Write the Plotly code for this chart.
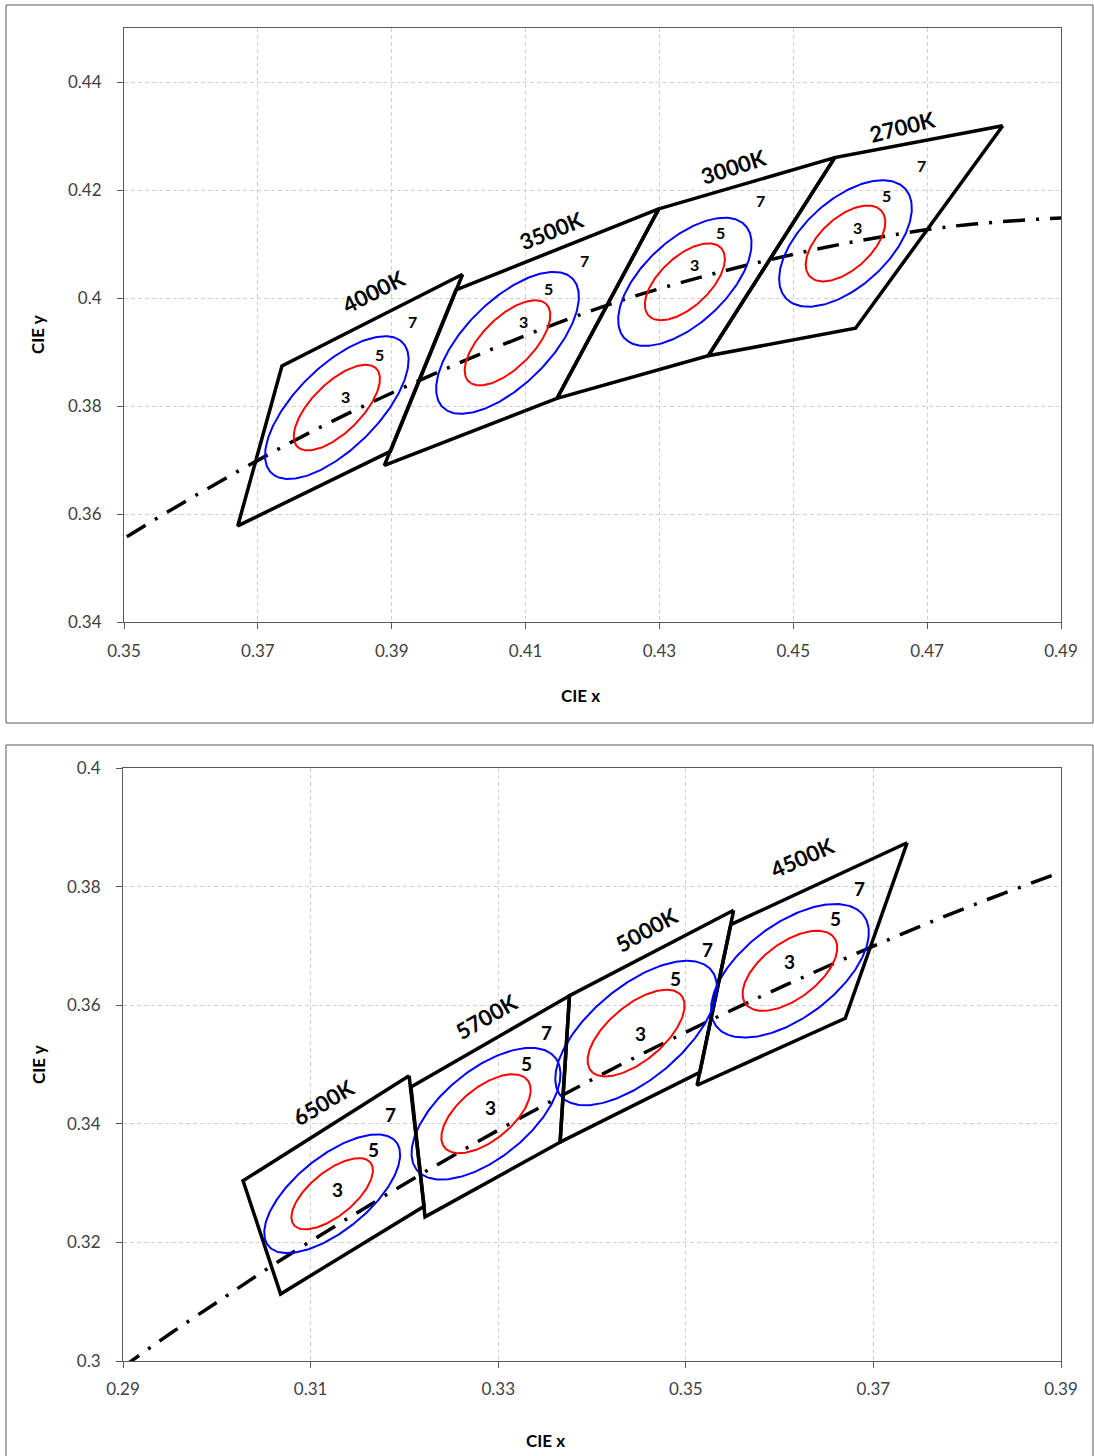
import numpy as np
import plotly.graph_objects as go

W, H = 1094, 1456

# Planckian locus, CIE 1931 (x, y) at selected colour temperatures (K)
locus_cct = [2000, 2200, 2500, 2700, 2856, 3000, 3200, 3500, 4000, 4500,
             5000, 5500, 6000, 6500, 7000, 7500, 8000, 8500, 9000]
locus_x = [0.5267, 0.5054, 0.4770, 0.4599, 0.4476, 0.4369, 0.4232, 0.4053, 0.3805, 0.3608,
           0.3451, 0.3325, 0.3221, 0.3135, 0.3064, 0.3004, 0.2952, 0.2908, 0.2869]
locus_y = [0.4133, 0.4152, 0.4137, 0.4106, 0.4074, 0.4041, 0.3991, 0.3907, 0.3768, 0.3635,
           0.3516, 0.3411, 0.3318, 0.3236, 0.3166, 0.3103, 0.3048, 0.2999, 0.2956]

# Nominal CCT quadrangles (corners: top-right, top-left, bottom-left, bottom-right)
top_ccts = ["2700K", "3000K", "3500K", "4000K"]
bottom_ccts = ["4500K", "5000K", "5700K", "6500K"]

quad_x = {
    "2700K": [0.4813, 0.4562, 0.4373, 0.4593],
    "3000K": [0.4562, 0.4299, 0.4147, 0.4373],
    "3500K": [0.4299, 0.3996, 0.3889, 0.4147],
    "4000K": [0.4006, 0.3736, 0.3670, 0.3898],
    "4500K": [0.3736, 0.3548, 0.3512, 0.3670],
    "5000K": [0.3551, 0.3376, 0.3366, 0.3515],
    "5700K": [0.3376, 0.3207, 0.3222, 0.3366],
    "6500K": [0.3205, 0.3028, 0.3068, 0.3221],
}
quad_y = {
    "2700K": [0.4319, 0.4260, 0.3893, 0.3944],
    "3000K": [0.4260, 0.4165, 0.3814, 0.3893],
    "3500K": [0.4165, 0.4015, 0.3690, 0.3814],
    "4000K": [0.4044, 0.3874, 0.3578, 0.3716],
    "4500K": [0.3874, 0.3736, 0.3465, 0.3578],
    "5000K": [0.3760, 0.3616, 0.3369, 0.3487],
    "5700K": [0.3616, 0.3462, 0.3243, 0.3369],
    "6500K": [0.3481, 0.3304, 0.3113, 0.3261],
}

# Ellipse centres and MacAdam metric coefficients (g11, g12, g22 in units of 1e4)
center_x = {"2700K": 0.4578, "3000K": 0.4338, "3500K": 0.4073, "4000K": 0.3818,
            "4500K": 0.3611, "5000K": 0.3447, "5700K": 0.3287, "6500K": 0.3123}
center_y = {"2700K": 0.4101, "3000K": 0.4030, "3500K": 0.3917, "4000K": 0.3797,
            "4500K": 0.3658, "5000K": 0.3553, "5700K": 0.3417, "6500K": 0.3282}
g11 = {"2700K": 37.0, "3000K": 39.0, "3500K": 38.0, "4000K": 39.5,
       "4500K": 52.7, "5000K": 56.0, "5700K": 61.9, "6500K": 84.0}
g12 = {"2700K": -17.5, "3000K": -19.5, "3500K": -20.0, "4000K": -21.5,
       "4500K": -22.6, "5000K": -25.0, "5700K": -26.5, "6500K": -40.0}
g22 = {"2700K": 26.5, "3000K": 27.5, "3500K": 25.0, "4000K": 26.0,
       "4500K": 29.4, "5000K": 28.0, "5700K": 31.6, "6500K": 44.0}

drawn_steps = [3, 5]
step_labels = ["3", "5", "7"]
step_colors = {3: "#ff0000", 5: "#0000ff"}

# screen offsets (px) of the step numbers from each ellipse centre
step_label_shift = {
    "2700K": [(12, -16), (41, -48), (76, -78)],
    "3000K": [(10, -17), (36, -49), (76, -81)],
    "3500K": [(16, -21), (41, -54), (77, -82)],
    "4000K": [(9, -11), (43, -53), (76, -86)],
    "4500K": [(0, -9), (46, -52), (70, -82)],
    "5000K": [(4, 0), (39, -55), (71, -84)],
    "5700K": [(4, -6), (40, -50), (60, -81)],
    "6500K": [(5, -4), (41, -44), (58, -79)],
}
# CCT caption offset (px) from the middle of the top edge, and text angle
cct_label_shift = {
    "2700K": (-16, -15, -14), "3000K": (-13, -17, -18), "3500K": (-6, -19, -22),
    "4000K": (1, -29, -27), "4500K": (-17, -26, -24), "5000K": (-5, -24, -29),
    "5700K": (-4, -25, -30), "6500K": (-3, -26, -31),
}

FONT = "Lato, 'Open Sans', sans-serif"


def ellipse(name, n):
    m = np.array([[g11[name], g12[name]], [g12[name], g22[name]]]) * 1e4
    w, v = np.linalg.eigh(m)
    t = np.linspace(0, 2 * np.pi, 241)
    circ = np.vstack([np.cos(t), np.sin(t)]) * (n / np.sqrt(w))[:, None]
    pts = v @ circ
    return center_x[name] + pts[0], center_y[name] + pts[1]


fig = go.Figure()
annotations = []

panels = [("x", "y", top_ccts, 16), ("x2", "y2", bottom_ccts, 19)]
for xa, ya, names, num_size in panels:
    fig.add_trace(go.Scatter(
        x=locus_x, y=locus_y, mode="lines", xaxis=xa, yaxis=ya,
        line=dict(color="black", width=3.5, dash="22px,11px,3px,11px", shape="spline"),
        hoverinfo="skip", showlegend=False))
    for name in names:
        qx = quad_x[name] + quad_x[name][:1]
        qy = quad_y[name] + quad_y[name][:1]
        fig.add_trace(go.Scatter(
            x=qx, y=qy, mode="lines", xaxis=xa, yaxis=ya,
            line=dict(color="black", width=3.5), hoverinfo="skip", showlegend=False))
        for n in drawn_steps:
            ex, ey = ellipse(name, n)
            fig.add_trace(go.Scatter(
                x=ex, y=ey, mode="lines", xaxis=xa, yaxis=ya,
                line=dict(color=step_colors[n], width=2), hoverinfo="skip",
                showlegend=False))
        for lbl, (dx, dy) in zip(step_labels, step_label_shift[name]):
            annotations.append(dict(
                x=center_x[name], y=center_y[name], xref=xa, yref=ya, text=f"<b>{lbl}</b>",
                showarrow=False, xshift=dx, yshift=-dy, xanchor="center", yanchor="middle",
                font=dict(family=FONT, size=num_size, color="black")))
        mx = (quad_x[name][0] + quad_x[name][1]) / 2
        my = (quad_y[name][0] + quad_y[name][1]) / 2
        sx, sy, ang = cct_label_shift[name]
        annotations.append(dict(
            x=mx, y=my, xref=xa, yref=ya, text=f"<b>{name}</b>", showarrow=False,
            xshift=sx, yshift=-sy, textangle=ang, xanchor="center", yanchor="middle",
            font=dict(family=FONT, size=22, color="black")))

# axis titles
for cx, cy in [(580, 695), (545, 1440)]:
    annotations.append(dict(x=cx / W, y=1 - cy / H, xref="paper", yref="paper",
                            xanchor="center", yanchor="middle",
                            text="<b>CIE x</b>", showarrow=False,
                            font=dict(family=FONT, size=17, color="black")))
for cx, cy in [(38, 335), (38, 1065)]:
    annotations.append(dict(x=cx / W, y=1 - cy / H, xref="paper", yref="paper",
                            xanchor="center", yanchor="middle",
                            text="<b>CIE y</b>", showarrow=False, textangle=-90,
                            font=dict(family=FONT, size=17, color="black")))

axis_common = dict(
    showline=True, mirror=True, linecolor="#595959", linewidth=1,
    ticks="outside", ticklen=6, tickcolor="#595959",
    showgrid=True, gridcolor="#d0d0d0", griddash="4px,3px", gridwidth=1,
    zeroline=False, tickformat=".2~f", automargin=False,
    tickfont=dict(family=FONT, size=17, color="#404040"),
)

fig.update_layout(
    width=W, height=H, autosize=False,
    margin=dict(l=0, r=0, t=0, b=0, pad=0, autoexpand=False),
    paper_bgcolor="white", plot_bgcolor="white", showlegend=False,
    xaxis=dict(domain=[124 / W, 1061 / W], range=[0.35, 0.49], tick0=0.35, dtick=0.02,
               anchor="y", ticklabelstandoff=8, **axis_common),
    yaxis=dict(domain=[1 - 622 / H, 1 - 28 / H], range=[0.34, 0.45], tick0=0.34, dtick=0.02,
               anchor="x", ticklabelstandoff=12, **axis_common),
    xaxis2=dict(domain=[123 / W, 1061 / W], range=[0.29, 0.39], tick0=0.29, dtick=0.02,
                anchor="y2", ticklabelstandoff=7, **axis_common),
    yaxis2=dict(domain=[1 - 1361 / H, 1 - 768 / H], range=[0.30, 0.40], tick0=0.30, dtick=0.02,
                anchor="x2", ticklabelstandoff=12, **axis_common),
    annotations=annotations,
    shapes=[
        dict(type="rect", xref="paper", yref="paper", x0=6 / W, x1=1093 / W,
             y0=1 - 723 / H, y1=1 - 5 / H, line=dict(color="#595959", width=1)),
        dict(type="rect", xref="paper", yref="paper", x0=6 / W, x1=1093 / W,
             y0=-0.01, y1=1 - 745 / H, line=dict(color="#595959", width=1)),
    ],
)

# keep the page flush with the window so the figure is shown at its own pixel size
page_css = ("document.body.style.margin='0';"
            "document.documentElement.style.overflow='hidden';"
            "document.body.style.overflow='hidden';")
fig.write_html("out.html", post_script=page_css)
